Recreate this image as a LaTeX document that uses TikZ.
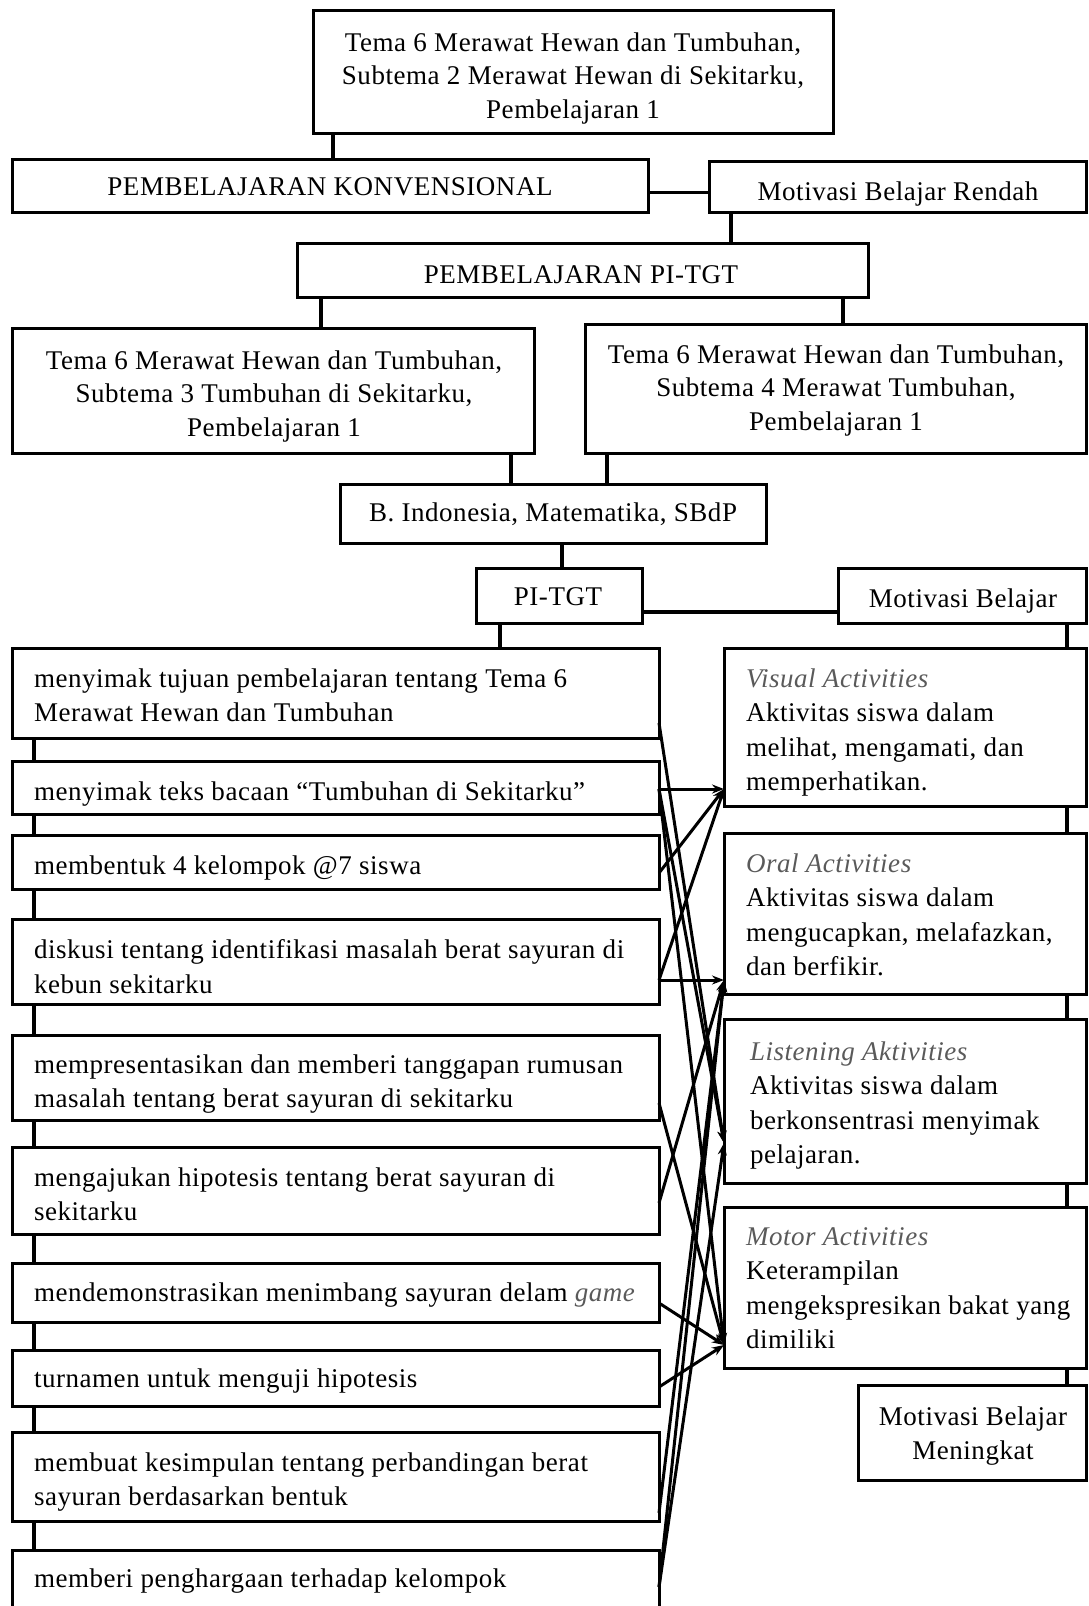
\documentclass[tikz,border=0pt]{standalone}
\usepackage{fontspec}
\setmainfont{Liberation Serif}[LetterSpace=2.0]
\usetikzlibrary{arrows.meta}
\definecolor{hdr}{RGB}{90,90,90}
\newcommand\fs{\fontsize{27}{34.5}\selectfont}
\newcommand\fst{\fontsize{27}{33.5}\selectfont}
\newcommand\bx[5]{\node[box, minimum width={#4-#2}, minimum height={#5-#3}] (#1) at (#2,#3) {};}
\begin{document}
\begin{tikzpicture}[x=1pt,y=-1pt,
  box/.style={draw, line width=3pt, inner sep=0pt, outer sep=0pt, anchor=north west},
  txt/.style={inner sep=0pt, outer sep=0pt, font=\fs, align=left},
  conn/.style={line width=3.2pt},
  arr/.style={line width=3pt, -{Stealth[length=12pt,width=9pt]}}]
\useasboundingbox (0,0) rectangle (1088,1606);
% boxes
\bx{top}{313}{10}{833}{133}
\bx{konv}{12}{159}{648}{212}
\bx{rend}{709}{161}{1086}{212}
\bx{pit}{297}{243}{868}{297}
\bx{tl}{12}{328}{534}{453}
\bx{tr}{585}{324}{1086}{453}
\bx{bind}{340}{484}{766}{543}
\bx{pi}{476}{568}{642}{623}
\bx{mb}{838}{568}{1086}{623}
\bx{b1}{12}{648}{659}{738}
\bx{b2}{12}{761}{659}{814}
\bx{b3}{12}{835}{659}{889}
\bx{b4}{12}{919}{659}{1004}
\bx{b5}{12}{1035}{659}{1120}
\bx{b6}{12}{1147}{659}{1234}
\bx{b7}{12}{1263}{659}{1322}
\bx{b8}{12}{1350}{659}{1406}
\bx{b9}{12}{1432}{659}{1521}
\bx{b10}{12}{1550}{659}{1614}
\bx{vis}{724}{648}{1086}{806}
\bx{oral}{724}{833}{1086}{994}
\bx{lis}{724}{1019}{1086}{1183}
\bx{mot}{724}{1207}{1086}{1368}
\bx{men}{858}{1385}{1086}{1480}
% texts
\node[txt, font=\fst, align=center, anchor=north] (ttop) at (573,32.5) {Tema 6 Merawat Hewan dan Tumbuhan,\\Subtema 2 Merawat Hewan di Sekitarku,\\Pembelajaran 1};
\node[txt, anchor=base] (tkonv) at (330,195) {PEMBELAJARAN KONVENSIONAL};
\node[txt, anchor=base] (trend) at (898,200) {Motivasi Belajar Rendah};
\node[txt, anchor=base] (tpit) at (581,283) {PEMBELAJARAN PI-TGT};
\node[txt, font=\fst, align=center, anchor=north] (ttl) at (274,350.5) {Tema 6 Merawat Hewan dan Tumbuhan,\\Subtema 3 Tumbuhan di Sekitarku,\\Pembelajaran 1};
\node[txt, font=\fst, align=center, anchor=north] (ttr) at (836,344.5) {Tema 6 Merawat Hewan dan Tumbuhan,\\Subtema 4 Merawat Tumbuhan,\\Pembelajaran 1};
\node[txt, anchor=base] (tbind) at (553,521) {B. Indonesia, Matematika, SBdP};
\node[txt, anchor=base] (tpi) at (558,605) {PI-TGT};
\node[txt, anchor=base] (tmb) at (963,607) {Motivasi Belajar};
\node[txt, anchor=north west] (tb1) at (34,668.5) {menyimak tujuan pembelajaran tentang Tema 6\\Merawat Hewan dan Tumbuhan};
\node[txt, anchor=north west] (tb2) at (34,781.5) {menyimak teks bacaan “Tumbuhan di Sekitarku”};
\node[txt, anchor=north west] (tb3) at (34,855.5) {membentuk 4 kelompok @7 siswa};
\node[txt, anchor=north west] (tb4) at (34,939.5) {diskusi tentang identifikasi masalah berat sayuran di\\kebun sekitarku};
\node[txt, anchor=north west] (tb5) at (34,1054.5) {mempresentasikan dan memberi tanggapan rumusan\\masalah tentang berat sayuran di sekitarku};
\node[txt, anchor=north west] (tb6) at (34,1167.5) {mengajukan hipotesis tentang berat sayuran di\\sekitarku};
\node[txt, anchor=north west] (tb7) at (34,1282.5) {mendemonstrasikan menimbang sayuran delam \textcolor{hdr}{\textit{game}}};
\node[txt, anchor=north west] (tb8) at (34,1368.5) {turnamen untuk menguji hipotesis};
\node[txt, anchor=north west] (tb9) at (34,1452.5) {membuat kesimpulan tentang perbandingan berat\\sayuran berdasarkan bentuk};
\node[txt, anchor=north west] (tb10) at (34,1568.5) {memberi penghargaan terhadap kelompok};
\node[txt, anchor=north west] (tvis) at (746,668.5) {\textcolor{hdr}{\textit{Visual Activities}}\\Aktivitas siswa dalam\\melihat, mengamati, dan\\memperhatikan.};
\node[txt, anchor=north west] (toral) at (746,853.5) {\textcolor{hdr}{\textit{Oral Activities}}\\Aktivitas siswa dalam\\mengucapkan, melafazkan,\\dan berfikir.};
\node[txt, anchor=north west] (tlis) at (750,1041.5) {\textcolor{hdr}{\textit{Listening Aktivities}}\\Aktivitas siswa dalam\\berkonsentrasi menyimak\\pelajaran.};
\node[txt, anchor=north west] (tmot) at (746,1227.5) {\textcolor{hdr}{\textit{Motor Activities}}\\Keterampilan\\mengekspresikan bakat yang\\dimiliki};
\node[txt, align=center, anchor=north] (tmen) at (973,1406.5) {Motivasi Belajar\\Meningkat};
% connectors
\draw[conn] ([xshift=20pt]top.south west) -- ([xshift=20pt]top.south west |- konv.north);
\draw[conn] ([yshift=-7pt]konv.east) -- ([yshift=-7pt]konv.east -| rend.west);
\draw[conn] ([xshift=22pt]rend.south west) -- ([xshift=22pt]rend.south west |- pit.north);
\draw[conn] ([xshift=24pt]pit.south west) -- ([xshift=24pt]pit.south west |- tl.north);
\draw[conn] ([xshift=-25pt]pit.south east) -- ([xshift=-25pt]pit.south east |- tr.north);
\draw[conn] ([xshift=-23pt]tl.south east) -- ([xshift=-23pt]tl.south east |- bind.north);
\draw[conn] ([xshift=22pt]tr.south west) -- ([xshift=22pt]tr.south west |- bind.north);
\draw[conn] ([xshift=222pt]bind.south west) -- ([xshift=222pt]bind.south west |- pi.north);
\draw[conn] ([yshift=-16.5pt]pi.east) -- ([yshift=-16.5pt]pi.east -| mb.west);
\draw[conn] ([xshift=24pt]pi.south west) -- ([xshift=24pt]pi.south west |- b1.north);
\draw[conn] ([xshift=-19pt]mb.south east) -- ([xshift=-19pt]mb.south east |- vis.north);
\foreach \a/\b in {b1/b2,b2/b3,b3/b4,b4/b5,b5/b6,b6/b7,b7/b8,b8/b9,b9/b10}
  \draw[conn] ([xshift=22pt]\a.south west) -- ([xshift=22pt]\a.south west |- \b.north);
\foreach \a/\b in {vis/oral,oral/lis,lis/mot,mot/men}
  \draw[conn] ([xshift=-19pt]\a.south east) -- ([xshift=-19pt]\a.south east |- \b.north);
% arrows
\coordinate (av) at ([yshift=17pt]vis.south west);
\coordinate (ao) at ([yshift=14pt]oral.south west);
\coordinate (al) at ([yshift=40pt]lis.south west);
\coordinate (am) at ([yshift=23pt]mot.south west);
\draw[arr] ([yshift=15pt]b1.south east) -- (al);
\draw[arr] ([yshift=25pt]b2.south east) -- (av);
\draw[arr] ([yshift=25pt]b2.south east) -- (al);
\draw[arr] ([yshift=25pt]b2.south east) -- (am);
\draw[arr] ([yshift=16pt]b3.south east) -- (av);
\draw[arr] ([yshift=24pt]b4.south east) -- (av);
\draw[arr] ([yshift=24pt]b4.south east) -- (ao);
\draw[arr] ([yshift=17pt]b5.south east) -- (am);
\draw[arr] ([yshift=31pt]b6.south east) -- (ao);
\draw[arr] ([yshift=19pt]b7.south east) -- (am);
\draw[arr] ([yshift=19pt]b8.south east) -- (am);
\draw[arr] ([yshift=8pt]b9.south east) -- (ao);
\draw[arr] ([yshift=27pt]b10.south east) -- (ao);
\draw[arr] ([yshift=27pt]b10.south east) -- (al);
\end{tikzpicture}
\end{document}
